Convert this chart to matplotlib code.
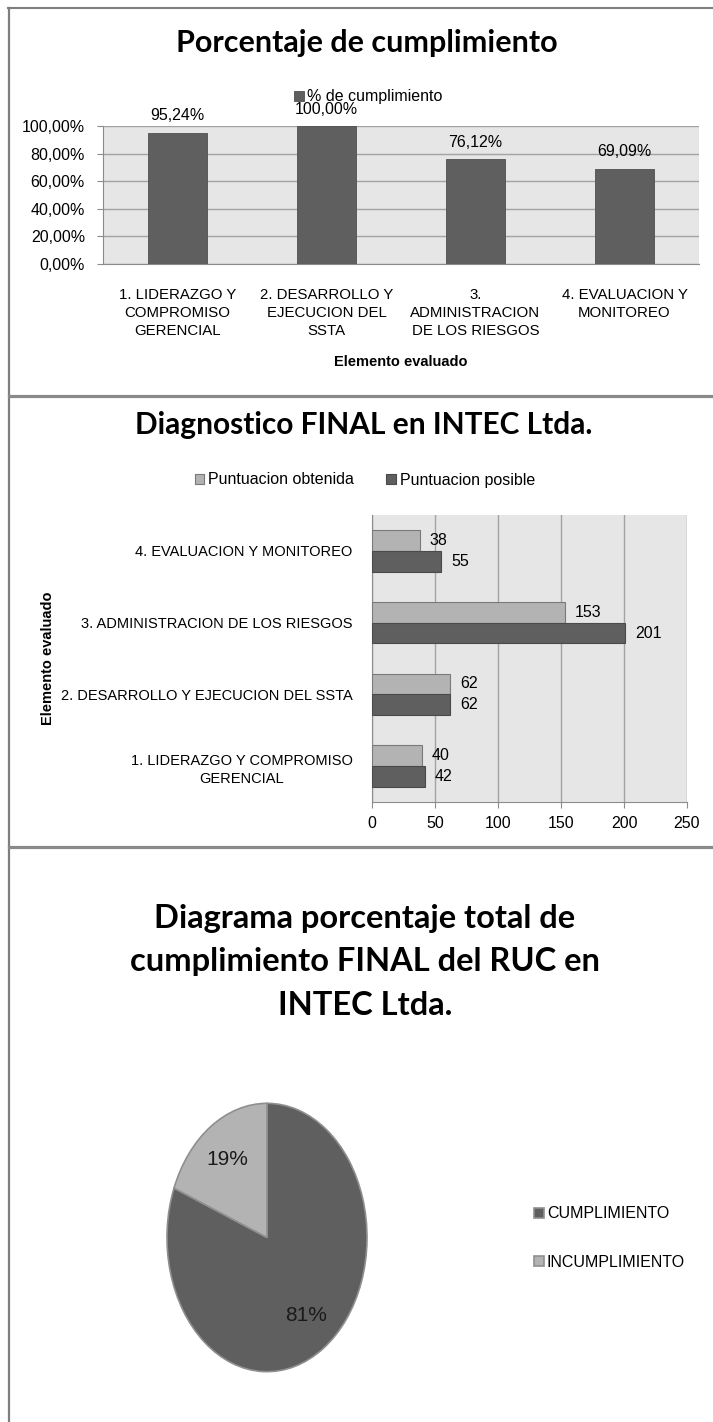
import matplotlib
matplotlib.use("Agg")
import matplotlib.pyplot as plt
from matplotlib.lines import Line2D
import numpy as np

# ---------------- data ----------------
elementos = ["1. LIDERAZGO Y\nCOMPROMISO\nGERENCIAL",
             "2. DESARROLLO Y\nEJECUCION DEL\nSSTA",
             "3.\nADMINISTRACION\nDE LOS RIESGOS",
             "4. EVALUACION Y\nMONITOREO"]
cumplimiento = [95.24, 100.00, 76.12, 69.09]
pct_ticks = [0, 20, 40, 60, 80, 100]

elementos_h = ["1. LIDERAZGO Y COMPROMISO\nGERENCIAL",
               "2. DESARROLLO Y EJECUCION DEL SSTA",
               "3. ADMINISTRACION DE LOS RIESGOS",
               "4. EVALUACION Y MONITOREO"]
obtenida = [40, 62, 153, 38]
posible = [42, 62, 201, 55]
score_ticks = [0, 50, 100, 150, 200, 250]

pie_labels = ["CUMPLIMIENTO", "INCUMPLIMIENTO"]
pie_values = [81, 19]

# ---------------- layout helpers ----------------
W, H = 713, 1422
fig = plt.figure(figsize=(W / 100, H / 100), dpi=100)
fig.patch.set_facecolor("white")


def fx(px):
    return px / W


def fy(py):
    return 1 - py / H


REG = ["Liberation Sans", "DejaVu Sans"]
TIT = ["Lato", "Liberation Sans", "DejaVu Sans"]
FS = 11.5
DARK = "#5f5f5f"
LIGHT = "#b3b3b3"
BG = "#e6e6e6"
GRID = "#a3a3a3"
SPINE = "#8c8c8c"


def fmt_pct(v):
    return f"{v:.2f}%".replace(".", ",")


# ---------------- frame lines ----------------
fig.add_artist(Line2D([fx(8), 1], [fy(8), fy(8)], color="#7f7f7f", lw=1.5))
fig.add_artist(Line2D([fx(9), fx(9)], [fy(8), 0], color="#7f7f7f", lw=1.6))
for yy in (396, 847):
    fig.add_artist(Line2D([fx(9), 1], [fy(yy), fy(yy)], color="#8a8a8a", lw=2.3))

# ---------------- chart 1 ----------------
fig.text(fx(367), fy(43), "Porcentaje de cumplimiento", ha="center", va="center",
         fontsize=22, fontweight="bold", family=TIT)

ax1 = fig.add_axes([fx(103), fy(264), (699 - 103) / W, (264 - 126) / H])
x = np.arange(len(cumplimiento))
b = ax1.bar(x, cumplimiento, width=0.4, color=DARK, edgecolor="#505050", lw=0.6,
            label="% de cumplimiento", zorder=3)
ax1.set_xlim(-0.5, len(cumplimiento) - 0.5)
ax1.set_ylim(0, 100)
ax1.set_facecolor(BG)
ax1.set_yticks(pct_ticks, [fmt_pct(t) for t in pct_ticks], family=REG, fontsize=FS)
ax1.set_xticks(x, elementos, family=REG, fontsize=10.8, linespacing=1.38)
ax1.yaxis.grid(True, color=GRID, lw=1)
ax1.set_axisbelow(True)
for s in ("top", "right"):
    ax1.spines[s].set_visible(False)
for s in ("left", "bottom"):
    ax1.spines[s].set_color(SPINE)
ax1.tick_params(axis="y", length=4, color=SPINE, pad=9)
ax1.tick_params(axis="x", length=0, pad=17)
for xi, v in zip(x, cumplimiento):
    ax1.annotate(fmt_pct(v), (xi, v), xytext=(0, 12), textcoords="offset points",
                 ha="center", va="center", family=REG, fontsize=FS)
ax1.set_xlabel("Elemento evaluado", family=REG, fontsize=10.5, fontweight="bold")
ax1.xaxis.set_label_coords(0.5, (264 - 362) / 138)
ax1.xaxis.label.set_va("center")
ax1.legend(loc="center", bbox_to_anchor=(fx(368), fy(97)), bbox_transform=fig.transFigure,
           frameon=False, handlelength=0.6, handleheight=0.6, handletextpad=0.2,
           borderpad=0, prop=dict(family=REG, size=FS))

# ---------------- chart 2 ----------------
fig.text(fx(364), fy(425), "Diagnostico FINAL en INTEC Ltda.", ha="center", va="center",
         fontsize=21.5, fontweight="bold", family=TIT)

ax2 = fig.add_axes([fx(372), fy(802), (687 - 372) / W, (802 - 515) / H])
y = np.arange(len(obtenida))
h = 0.29
b1 = ax2.barh(y + h / 2, obtenida, height=h, color=LIGHT, edgecolor="#7a7a7a", lw=0.8,
              label="Puntuacion obtenida", zorder=3)
b2 = ax2.barh(y - h / 2, posible, height=h, color=DARK, edgecolor="#4a4a4a", lw=0.8,
              label="Puntuacion posible", zorder=3)
ax2.set_ylim(-0.5, len(obtenida) - 0.5)
ax2.set_xlim(score_ticks[0], score_ticks[-1])
ax2.set_facecolor(BG)
ax2.set_xticks(score_ticks, [str(t) for t in score_ticks], family=REG, fontsize=FS)
ax2.set_yticks(y, elementos_h, family=REG, fontsize=10.5, linespacing=1.4)
for t in ax2.get_yticklabels():
    t.set_multialignment("center")
ax2.xaxis.grid(True, color=GRID, lw=1)
ax2.set_axisbelow(True)
for s in ("top", "right"):
    ax2.spines[s].set_visible(False)
for s in ("left", "bottom"):
    ax2.spines[s].set_color(SPINE)
ax2.tick_params(axis="x", length=4, color=SPINE, pad=6)
ax2.tick_params(axis="y", length=0, pad=14)
ax2.bar_label(b1, padding=7, family=REG, fontsize=FS)
ax2.bar_label(b2, padding=7, family=REG, fontsize=FS)
ax2.set_ylabel("Elemento evaluado", family=REG, fontsize=10.5, fontweight="bold")
ax2.yaxis.set_label_coords((48 - 372) / 315, 0.5)
ax2.yaxis.label.set_va("center")
ax2.legend(handles=[b1, b2], loc="center", bbox_to_anchor=(fx(365), fy(480)),
           bbox_transform=fig.transFigure, ncol=2, frameon=False, handlelength=0.6,
           handleheight=0.6, handletextpad=0.25, columnspacing=2.0, borderpad=0,
           prop=dict(family=REG, size=FS))

# ---------------- chart 3 ----------------
fig.text(fx(365), fy(962), "Diagrama porcentaje total de\ncumplimiento FINAL del RUC en\nINTEC Ltda.",
         ha="center", va="center", fontsize=23.5, fontweight="bold", family=TIT, linespacing=1.6)

ax3 = fig.add_axes([fx(166), fy(1373), 202 / W, 271 / H])
wedges, texts, autotexts = ax3.pie(
    pie_values, colors=[DARK, LIGHT], startangle=90, counterclock=False,
    autopct="%1.0f%%", pctdistance=0.7,
    wedgeprops=dict(edgecolor="#8f8f8f", linewidth=1.2),
    textprops=dict(family=REG, fontsize=15, color="#1a1a1a"))
ax3.set_aspect("auto")
ax3.set_xlim(-1.01, 1.01)
ax3.set_ylim(-1.01, 1.01)
ax3.legend(wedges, pie_labels, loc="center left", bbox_to_anchor=(fx(526), fy(1238)),
           bbox_transform=fig.transFigure, frameon=False, handlelength=0.6, handleheight=0.6,
           handletextpad=0.2, labelspacing=2.1, borderpad=0,
           prop=dict(family=REG, size=FS))

fig.savefig("out.png", dpi=100)
